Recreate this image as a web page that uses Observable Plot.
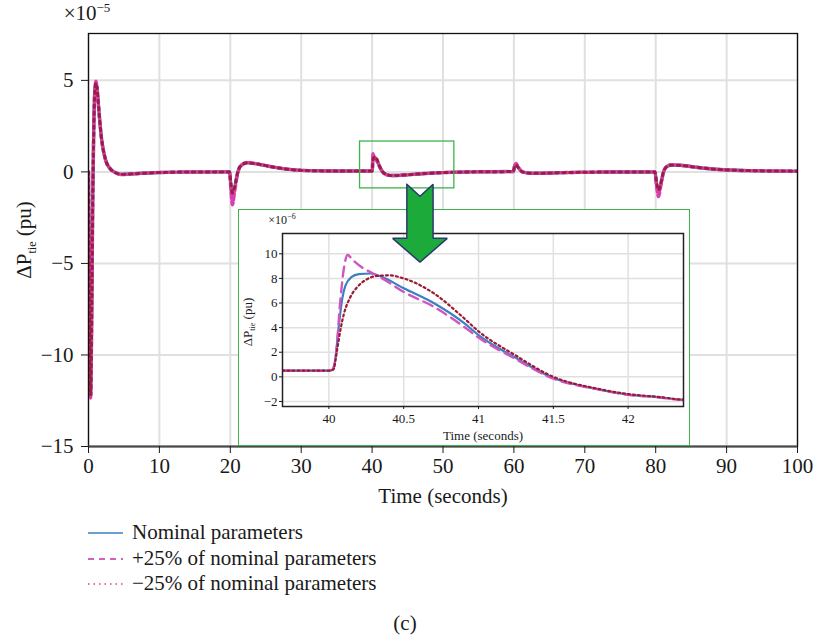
<!DOCTYPE html>
<html>
<head>
<meta charset="utf-8">
<script src="https://cdn.jsdelivr.net/npm/d3@7"></script>
<script src="https://cdn.jsdelivr.net/npm/@observablehq/plot@0.6"></script>
<style>
  body { margin: 0; background: #fff; }
  #wrap { position: relative; width: 813px; height: 641px; font-family: "Liberation Serif", "DejaVu Serif", serif; color: #1a1a1a; }
  .layer { position: absolute; left: 0; top: 0; }
  #inset { position: absolute; left: 238px; top: 209px; width: 452px; height: 237px; background: #fff; outline: 1.5px solid #3cb44b; outline-offset: -1px; }
  #overlay { pointer-events: none; }
  #legend { position: absolute; left: 88px; top: 520px; font-size: 21px; line-height: 25.7px; }
  #legend .row { display: flex; align-items: center; height: 25.7px; }
  #legend svg { margin-right: 9px; }
  #caption { position: absolute; left: 0; top: 611px; width: 810px; text-align: center; font-size: 21px; }
</style>
</head>
<body>
<div id="wrap">
  <div id="main" class="layer"></div>
  <div id="inset"></div>
  <div id="overlay" class="layer"></div>
  <div id="legend"></div>
  <div id="caption">(c)</div>
</div>
<script>
// Tie-line power deviation ΔP_tie (units of 1e-5 pu) against time (s)
const seriesNames = ["Nominal parameters", "+25% of nominal parameters", "−25% of nominal parameters"];
const seriesColors = ["#3b7fc2", "#d93fae", "#a11d3f"];

const nominal = [
  [0, 0], [0.05, -3], [0.15, -9], [0.3, -12.2], [0.45, -8], [0.6, -1.5], [0.75, 2.5], [0.9, 4.5],
  [1.05, 4.9], [1.2, 4.6], [1.45, 3.4], [1.8, 1.93], [2.4, 0.66], [3.0, 0.2], [3.6, 0.0], [4.75, -0.14],
  [6.5, -0.1], [9, -0.05], [13, -0.01], [19.9, 0],
  [20.05, -0.6], [20.3, -1.3], [20.6, -0.9], [21.0, -0.1], [21.4, 0.3], [22.4, 0.5], [23.5, 0.45],
  [25.7, 0.29], [28, 0.15], [31, 0.07], [35, 0.05], [39.69, 0.05],
  [40.0, 0.05], [40.02, 0.055], [40.04, 0.12], [40.065, 0.4], [40.09, 0.64], [40.11, 0.74], [40.15, 0.81],
  [40.2, 0.835], [40.28, 0.84], [40.35, 0.815], [40.5, 0.72], [40.7, 0.6], [40.9, 0.44], [41.0, 0.34],
  [41.24, 0.16], [41.5, -0.01], [41.79, -0.098], [42.0, -0.144], [42.2, -0.165], [42.37, -0.187],
  [43, -0.2], [44.5, -0.17], [47, -0.1], [50, -0.04], [54, 0.0], [59.9, 0.02],
  [60.1, 0.3], [60.3, 0.42], [60.6, 0.25], [61.2, 0.0], [62.5, -0.07], [64, -0.07], [67, -0.04], [72, -0.01], [79.9, 0],
  [80.1, -0.6], [80.4, -1.1], [80.7, -0.7], [81.1, 0.0], [81.5, 0.27], [82.2, 0.38], [83.5, 0.36],
  [86, 0.24], [89, 0.13], [93, 0.07], [100, 0.04]
];

const plus25 = [
  [0, 0], [0.05, -3], [0.15, -9.1], [0.3, -12.35], [0.45, -8], [0.6, -1.5], [0.75, 2.5], [0.9, 4.55],
  [1.05, 4.95], [1.2, 4.6], [1.45, 3.4], [1.8, 1.93], [2.4, 0.66], [3.0, 0.2], [3.6, 0.0], [4.75, -0.15],
  [6.5, -0.1], [9, -0.05], [13, -0.01], [19.9, 0],
  [20.05, -0.8], [20.3, -1.8], [20.6, -1.1], [21.0, -0.15], [21.4, 0.3], [22.4, 0.52], [23.5, 0.46],
  [25.7, 0.29], [28, 0.15], [31, 0.07], [35, 0.05], [39.69, 0.05],
  [40.0, 0.05], [40.02, 0.055], [40.045, 0.15], [40.075, 0.6], [40.1, 0.88], [40.125, 0.99], [40.16, 0.95],
  [40.22, 0.89], [40.28, 0.85], [40.35, 0.805], [40.5, 0.69], [40.7, 0.57], [40.9, 0.41], [41.0, 0.32],
  [41.24, 0.15], [41.5, -0.015], [41.79, -0.1], [42.0, -0.146], [42.2, -0.166], [42.37, -0.188],
  [43, -0.2], [44.5, -0.17], [47, -0.1], [50, -0.04], [54, 0.0], [59.9, 0.02],
  [60.1, 0.33], [60.3, 0.46], [60.6, 0.26], [61.2, 0.0], [62.5, -0.07], [64, -0.07], [67, -0.04], [72, -0.01], [79.9, 0],
  [80.1, -0.7], [80.4, -1.35], [80.7, -0.8], [81.1, 0.0], [81.5, 0.28], [82.2, 0.39], [83.5, 0.36],
  [86, 0.24], [89, 0.13], [93, 0.07], [100, 0.04]
];

const minus25 = [
  [0, 0], [0.05, -3], [0.15, -8.9], [0.3, -12.2], [0.45, -8], [0.6, -1.5], [0.75, 2.4], [0.9, 4.4],
  [1.05, 4.85], [1.2, 4.6], [1.45, 3.45], [1.8, 1.97], [2.4, 0.68], [3.0, 0.2], [3.6, 0.0], [4.75, -0.13],
  [6.5, -0.1], [9, -0.05], [13, -0.01], [19.9, 0],
  [20.05, -0.5], [20.3, -1.15], [20.6, -0.85], [21.0, -0.1], [21.4, 0.3], [22.4, 0.49], [23.5, 0.45],
  [25.7, 0.29], [28, 0.15], [31, 0.07], [35, 0.05], [39.69, 0.05],
  [40.0, 0.05], [40.03, 0.06], [40.055, 0.22], [40.08, 0.4], [40.1, 0.51], [40.14, 0.64], [40.19, 0.73],
  [40.25, 0.79], [40.32, 0.82], [40.4, 0.825], [40.5, 0.8], [40.7, 0.68], [40.9, 0.48], [41.0, 0.37],
  [41.24, 0.18], [41.5, 0.0], [41.79, -0.095], [42.0, -0.14], [42.2, -0.163], [42.37, -0.186],
  [43, -0.2], [44.5, -0.17], [47, -0.1], [50, -0.04], [54, 0.0], [59.9, 0.02],
  [60.1, 0.27], [60.3, 0.38], [60.6, 0.24], [61.2, 0.0], [62.5, -0.07], [64, -0.07], [67, -0.04], [72, -0.01], [79.9, 0],
  [80.1, -0.5], [80.4, -1.0], [80.7, -0.65], [81.1, 0.0], [81.5, 0.26], [82.2, 0.37], [83.5, 0.35],
  [86, 0.24], [89, 0.13], [93, 0.07], [100, 0.04]
];

const mainXTicks = [0, 10, 20, 30, 40, 50, 60, 70, 80, 90, 100];
const mainYTicks = [-15, -10, -5, 0, 5];
const insetXTicks = [40, 40.5, 41, 41.5, 42];
const insetYTicks = [-2, 0, 2, 4, 6, 8, 10];

// zoom window marked on the main chart, and the arrow pointing to the magnified view (main-chart units)
const zoomBox = {x1: 38.3, x2: 51.6, y1: -0.9, y2: 1.66};
const arrowShape = [
  [44.9, -0.68], [46.75, -1.33], [48.6, -0.68], [48.6, -3.63], [50.6, -3.63],
  [46.75, -4.93], [42.9, -3.63], [44.9, -3.63], [44.9, -0.68]
];

const serif = '"Liberation Serif", "DejaVu Serif", serif';
const allSeries = [nominal, plus25, minus25];
const toRows = (pairs) => pairs.map(([t, v]) => ({t, v}));

function seriesMarks(scaleK, widths, dashes, colors, filter) {
  return allSeries.map((s, i) => Plot.line(
    toRows(s).filter(filter).map(d => ({t: d.t, v: d.v * scaleK})),
    {x: "t", y: "v", stroke: colors[i], strokeWidth: widths[i],
     strokeDasharray: dashes[i], curve: "monotone-x", clip: true}
  ));
}

// ---------- main chart ----------
const main = Plot.plot({
  width: 813, height: 510,
  marginLeft: 88, marginRight: 16, marginTop: 33, marginBottom: 64,
  style: {fontFamily: serif, fontSize: "20px", color: "#1a1a1a", background: "transparent", overflow: "visible"},
  x: {domain: [0, 100]},
  y: {domain: [-15, 7.56]},
  marks: [
    Plot.gridX(mainXTicks, {stroke: "#e0e0e0", strokeOpacity: 1, strokeWidth: 2}),
    Plot.gridY(mainYTicks, {stroke: "#e0e0e0", strokeOpacity: 1, strokeWidth: 2}),
    ...seriesMarks(1, [3.4, 3.4, 3], [null, "6,3", "2.5,4.5"], seriesColors, () => true),
    Plot.frame({stroke: "#111", strokeWidth: 1.3}),
    Plot.ruleY([-15], {stroke: "#4a4a4a", strokeWidth: 2.2}),
    Plot.axisX(mainXTicks, {tickSize: 7, tickPadding: 5, label: "Time (seconds)", labelAnchor: "center", labelArrow: "none", labelOffset: 56, fontSize: 21}),
    Plot.axisY(mainYTicks, {tickSize: 7, tickPadding: 8, label: null, fontSize: 21})
  ]
});
document.getElementById("main").appendChild(main);

{
  const svg = d3.select(main);
  const yl = svg.append("text")
    .attr("transform", "translate(31,240) rotate(-90)")
    .attr("text-anchor", "middle")
    .attr("font-family", serif).attr("font-size", 21).attr("fill", "#1a1a1a");
  yl.append("tspan").text("ΔP");
  yl.append("tspan").attr("font-size", 12).attr("dy", 5).text("tie");
  yl.append("tspan").attr("dy", -5).text(" (pu)");

  const ex = svg.append("text")
    .attr("x", 87).attr("y", 20)
    .attr("font-family", serif).attr("font-size", 21).attr("fill", "#1a1a1a");
  ex.append("tspan").text("×10");
  ex.append("tspan").attr("font-size", 13).attr("dy", -8).text("−5");
}

// ---------- magnified view around t = 40 s (units of 1e-6 pu) ----------
const inset = Plot.plot({
  width: 452, height: 237,
  marginLeft: 44, marginRight: 7, marginTop: 24, marginBottom: 40,
  style: {fontFamily: serif, fontSize: "13px", color: "#1a1a1a", background: "transparent"},
  x: {domain: [39.69, 42.37]},
  y: {domain: [-2.41, 11.65]},
  marks: [
    Plot.gridX(insetXTicks, {stroke: "#e0e0e0", strokeOpacity: 1, strokeWidth: 1.5}),
    Plot.gridY(insetYTicks, {stroke: "#e0e0e0", strokeOpacity: 1, strokeWidth: 1.5}),
    ...seriesMarks(10, [2.2, 2.4, 2.2], [null, "10,6", "2,3"], ["#3b7fc2", "#cf55c2", "#9b1b33"], d => d.t >= 39 && d.t <= 43),
    Plot.frame({stroke: "#222", strokeWidth: 1.5}),
    Plot.axisX(insetXTicks, {tickSize: 3, tickPadding: 4, label: "Time (seconds)", labelAnchor: "center", labelArrow: "none", labelOffset: 33, fontSize: 13, tickFormat: d => String(d)}),
    Plot.axisY(insetYTicks, {tickSize: 3, tickPadding: 2, label: null, fontSize: 13})
  ]
});
document.getElementById("inset").appendChild(inset);

{
  const svg = d3.select(inset);
  const yl = svg.append("text")
    .attr("transform", "translate(14,113) rotate(-90)")
    .attr("text-anchor", "middle")
    .attr("font-family", serif).attr("font-size", 13).attr("fill", "#1a1a1a");
  yl.append("tspan").text("ΔP");
  yl.append("tspan").attr("font-size", 8).attr("dy", 3).text("tie");
  yl.append("tspan").attr("dy", -3).text(" (pu)");

  const ex = svg.append("text")
    .attr("x", 44).attr("y", 15)
    .attr("font-family", serif).attr("font-size", 12).attr("fill", "#1a1a1a");
  ex.append("tspan").text("×10");
  ex.append("tspan").attr("font-size", 8).attr("dy", -5).text("−6");
}

// ---------- zoom window and arrow, drawn over both charts ----------
const overlay = Plot.plot({
  width: 813, height: 510,
  marginLeft: 88, marginRight: 16, marginTop: 33, marginBottom: 64,
  style: {background: "transparent", overflow: "visible"},
  x: {domain: [0, 100], axis: null},
  y: {domain: [-15, 7.56], axis: null},
  marks: [
    Plot.rect([zoomBox], {x1: "x1", x2: "x2", y1: "y1", y2: "y2", fill: "none", stroke: "#3cb44b", strokeWidth: 1.3}),
    Plot.line(arrowShape, {x: d => d[0], y: d => d[1], fill: "#1caa3a", stroke: "#2b3b6e", strokeWidth: 1.5, curve: "linear", strokeLinejoin: "miter"})
  ]
});
document.getElementById("overlay").appendChild(overlay);

// ---------- legend ----------
const legendDash = [null, "6,5", "1.5,4"];
const legendWidth = [1.3, 1.8, 1.4];
const legendColors = ["#3b7fc2", "#d45fbf", "#cf4a5e"];
const legend = d3.select("#legend");
seriesNames.forEach((name, i) => {
  const row = legend.append("div").attr("class", "row");
  const s = row.append("svg").attr("width", 35).attr("height", 20);
  s.append("line").attr("x1", 0).attr("x2", 35).attr("y1", 10).attr("y2", 10)
    .attr("stroke", legendColors[i]).attr("stroke-width", legendWidth[i])
    .attr("stroke-dasharray", legendDash[i]);
  row.append("span").text(name);
});
</script>
</body>
</html>
